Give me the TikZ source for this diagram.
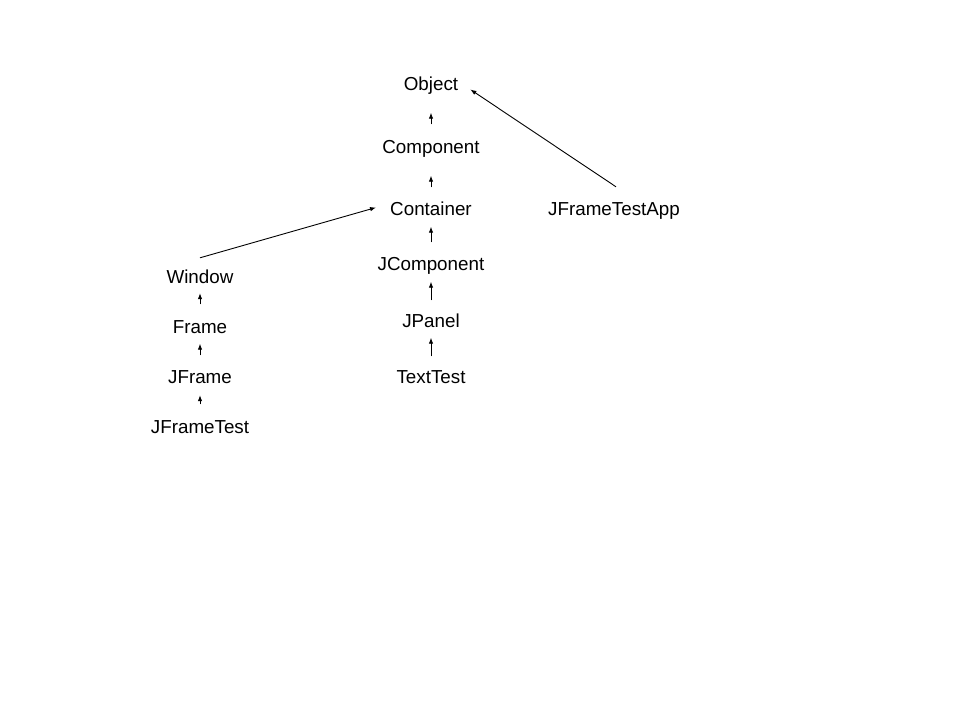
\documentclass[tikz,border=0pt]{standalone}
\usepackage{fontspec}
\setmainfont{Liberation Sans}
\usetikzlibrary{arrows.meta}
\tikzset{
  cls/.style={anchor=base,inner sep=0pt,text height=13pt,text depth=4pt,font=\fontsize{18.8}{22}\selectfont},
  isa/.style 2 args={-{Latex[length=6pt,width=4.5pt]},line width=0.9pt,shorten <=#1,shorten >=#2},
}
\begin{document}
\begin{tikzpicture}[x=1pt,y=-1pt]
\useasboundingbox(0,0) rectangle (960,720);
\pgfmathsetmacro{\kl}{200}
\pgfmathsetmacro{\km}{431}
%middle column
\node[cls](obj) at (\km,90){Object};
\node[cls](comp) at (\km,153){Component};
\node[cls](cont) at (\km,215){Container};
\node[cls](jcomp) at (\km,270){JComponent};
\node[cls](jpanel) at (\km,327){JPanel};
\node[cls](tt) at (\km,383){TextTest};
%left column
\node[cls](win) at (\kl,283){Window};
\node[cls](frame) at (\kl,333){Frame};
\node[cls](jframe) at (\kl,383){JFrame};
\node[cls](jft) at (\kl,433){JFrameTest};
%app
\node[cls](app) at (614,215){JFrameTestApp};
%short arrows
\draw[isa={15.5pt}{18.5pt}](comp.north)--(obj.south);
\draw[isa={14.5pt}{18.5pt}](cont.north)--(comp.south);
\draw[isa={14.5pt}{7.5pt}](jcomp.north)--(cont.south);
\draw[isa={13.5pt}{7.5pt}](jpanel.north)--(jcomp.south);
\draw[isa={13.5pt}{6.5pt}](tt.north)--(jpanel.south);
\draw[isa={15.5pt}{6pt}](frame.north)--(win.south);
\draw[isa={14.5pt}{6.5pt}](jframe.north)--(frame.south);
\draw[isa={15.5pt}{8pt}](jft.north)--(jframe.south);
%long arrows
\draw[isa={0pt}{0pt}]([yshift=12pt]win.north)--([xshift=-14pt,yshift=3pt]cont.west);
\draw[isa={0pt}{0pt}]([xshift=2pt,yshift=15pt]app.north)--([xshift=12pt,yshift=-4pt]obj.east);
\end{tikzpicture}
\end{document}
